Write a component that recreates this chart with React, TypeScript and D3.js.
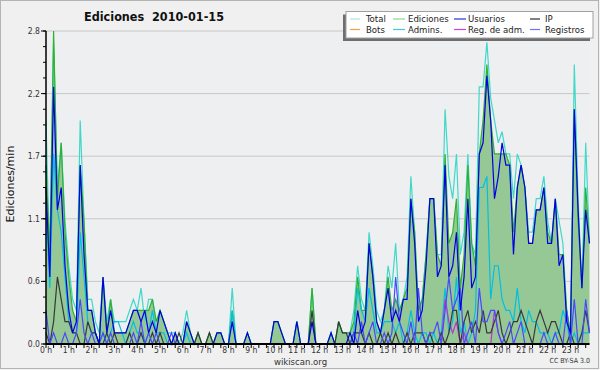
import * as d3 from "d3";

// edits per 10-minute slot, 0 h .. 23 h 50 (divided by 10 to get edits/min)
const total = [
  20, 7, 27, 14, 18, 11, 7, 4, 3, 20, 11, 4,
  4, 2, 1, 6, 2, 4, 2, 2, 2, 2, 3, 4,
  3, 5, 2, 4, 4, 2, 3, 2, 1, 1, 1, 0,
  1, 3, 1, 0, 1, 0, 0, 1, 0, 1, 1, 0,
  0, 5, 0, 0, 0, 1, 0, 0, 0, 0, 0, 0,
  2, 2, 1, 0, 0, 0, 2, 0, 0, 0, 5, 0,
  0, 0, 0, 1, 0, 2, 1, 1, 1, 3, 7, 4,
  3, 10, 7, 3, 2, 3, 7, 5, 9, 3, 4, 6,
  15, 10, 3, 4, 8, 13, 13, 8, 8, 21, 15, 13,
  17, 8, 10, 17, 9, 8, 23, 23, 27, 22, 20, 18,
  19, 17, 17, 13, 17, 16, 14, 10, 10, 13, 13, 15,
  11, 9, 13, 11, 9, 3, 1, 25, 13, 5, 18, 9,
];
const ediciones = [
  16, 8, 28, 13, 18, 10, 6, 3, 2, 16, 11, 3,
  3, 1, 0, 6, 1, 4, 1, 1, 1, 1, 2, 3,
  3, 3, 3, 3, 4, 2, 3, 2, 1, 0, 1, 0,
  0, 2, 1, 0, 1, 0, 0, 1, 0, 1, 1, 0,
  0, 3, 0, 0, 0, 1, 0, 0, 0, 0, 0, 0,
  2, 2, 1, 0, 0, 0, 2, 0, 0, 0, 5, 0,
  0, 0, 0, 1, 0, 2, 1, 1, 1, 2, 6, 3,
  3, 9, 6, 2, 1, 3, 6, 3, 4, 3, 4, 5,
  13, 10, 3, 4, 8, 13, 13, 8, 7, 17, 9, 10,
  13, 5, 8, 16, 9, 7, 17, 20, 25, 20, 17, 17,
  17, 17, 16, 10, 14, 16, 14, 9, 9, 12, 12, 14,
  10, 9, 13, 8, 8, 3, 1, 21, 11, 5, 14, 9,
];
const usuarios = [
  14, 6, 23, 12, 14, 7, 3, 1, 2, 16, 8, 3,
  3, 1, 0, 6, 1, 3, 1, 1, 1, 1, 2, 3,
  3, 2, 3, 1, 2, 1, 3, 2, 1, 0, 1, 0,
  0, 2, 1, 0, 0, 0, 0, 0, 0, 1, 1, 0,
  0, 2, 0, 0, 0, 1, 0, 0, 0, 0, 0, 0,
  2, 2, 1, 0, 0, 0, 2, 0, 0, 0, 2, 0,
  0, 0, 0, 1, 0, 0, 0, 0, 1, 0, 3, 1,
  2, 9, 6, 2, 1, 3, 5, 2, 3, 2, 4, 4,
  13, 9, 2, 3, 7, 13, 13, 6, 7, 16, 6, 7,
  10, 3, 6, 13, 5, 6, 17, 18, 24, 20, 13, 15,
  18, 16, 16, 8, 14, 16, 14, 9, 9, 12, 12, 14,
  9, 9, 13, 7, 8, 2, 1, 21, 12, 5, 12, 9,
];
const ip = [
  1, 0, 2, 6, 4, 2, 2, 1, 1, 0, 0, 2,
  1, 1, 0, 0, 1, 0, 1, 0, 0, 0, 1, 0,
  0, 1, 0, 0, 1, 0, 1, 0, 0, 0, 0, 1,
  0, 0, 0, 0, 1, 0, 0, 1, 0, 0, 0, 0,
  0, 0, 0, 0, 0, 0, 0, 0, 0, 0, 0, 0,
  0, 0, 0, 0, 0, 0, 0, 0, 0, 0, 3, 0,
  0, 0, 0, 0, 0, 2, 1, 1, 0, 1, 1, 1,
  0, 1, 0, 0, 1, 0, 1, 0, 1, 0, 0, 1,
  0, 1, 1, 1, 0, 1, 0, 0, 1, 0, 1, 3,
  3, 0, 2, 3, 1, 2, 1, 3, 1, 1, 2, 3,
  1, 0, 1, 2, 2, 3, 2, 1, 0, 2, 3, 2,
  1, 2, 2, 1, 0, 0, 1, 0, 0, 1, 3, 1,
];
const admins = [
  13, 5, 17, 12, 10, 6, 2, 1, 1, 10, 6, 2,
  1, 1, 0, 1, 0, 1, 2, 2, 1, 0, 1, 2,
  1, 1, 0, 1, 3, 1, 1, 1, 0, 0, 0, 0,
  0, 1, 0, 0, 0, 0, 0, 0, 0, 0, 0, 0,
  0, 3, 0, 0, 0, 0, 0, 0, 0, 0, 0, 0,
  0, 0, 0, 0, 0, 0, 0, 0, 0, 0, 0, 0,
  0, 0, 0, 0, 0, 0, 0, 0, 0, 1, 5, 3,
  2, 5, 3, 1, 1, 2, 2, 2, 1, 2, 0, 1,
  3, 1, 0, 1, 1, 0, 1, 0, 1, 5, 1, 2,
  6, 1, 2, 0, 1, 3, 14, 14, 15, 4, 7, 7,
  4, 3, 3, 2, 5, 2, 1, 3, 2, 2, 1, 1,
  1, 0, 1, 1, 3, 2, 0, 1, 0, 1, 1, 1,
];
const regAdm = [
  0, 0, 0, 0, 0, 0, 0, 0, 0, 0, 0, 0,
  0, 0, 0, 0, 0, 0, 0, 0, 0, 0, 0, 0,
  0, 0, 0, 0, 0, 0, 0, 0, 0, 0, 0, 0,
  0, 0, 0, 0, 0, 0, 0, 0, 0, 0, 0, 0,
  0, 0, 0, 0, 0, 0, 0, 0, 0, 0, 0, 0,
  0, 0, 0, 0, 0, 0, 0, 0, 0, 0, 0, 0,
  0, 0, 0, 0, 0, 0, 0, 0, 0, 0, 0, 0,
  0, 0, 0, 0, 0, 0, 0, 0, 0, 0, 0, 0,
  0, 0, 0, 0, 0, 0, 0, 0, 0, 4, 2, 1,
  2, 0, 1, 0, 0, 0, 0, 0, 0, 0, 3, 1,
  0, 0, 0, 0, 0, 0, 0, 0, 0, 0, 0, 0,
  0, 0, 0, 0, 0, 0, 0, 0, 0, 0, 0, 0,
];
const registros = [
  3, 0, 1, 0, 0, 1, 0, 0, 1, 4, 1, 0,
  1, 0, 0, 1, 0, 1, 0, 0, 0, 0, 0, 1,
  0, 2, 0, 1, 0, 1, 0, 0, 0, 1, 0, 0,
  0, 0, 0, 0, 0, 0, 0, 0, 0, 0, 0, 0,
  0, 0, 0, 0, 0, 0, 0, 0, 0, 0, 0, 0,
  0, 0, 0, 0, 0, 0, 0, 0, 0, 0, 0, 0,
  0, 0, 0, 0, 0, 0, 0, 0, 0, 1, 0, 2,
  0, 1, 2, 0, 0, 1, 0, 1, 6, 2, 1, 0,
  2, 0, 5, 1, 0, 1, 1, 2, 0, 3, 6, 3,
  4, 5, 0, 1, 2, 0, 5, 2, 2, 3, 3, 1,
  0, 1, 2, 0, 1, 2, 0, 0, 0, 0, 0, 1,
  0, 0, 1, 0, 0, 3, 0, 4, 0, 0, 4, 1,
];

const hourLabels = d3.range(24).map((h) => `${h} h`);
const yTicks = [0, 0.56, 1.12, 1.68, 2.24, 2.8];

const legend = [
  { name: "Total", color: "#a8e8e0" },
  { name: "Ediciones", color: "#90d890" },
  { name: "Usuarios", color: "#3030e0" },
  { name: "IP", color: "#303030" },
  { name: "Bots", color: "#f0a040" },
  { name: "Admins.", color: "#40c8e0" },
  { name: "Reg. de adm.", color: "#d040e0" },
  { name: "Registros", color: "#7070ff" },
];

const W = 600;
const H = 370;
const m = { left: 46, right: 10.5, top: 31, bottom: 26 };

export default function App() {
  const x = d3.scaleLinear().domain([0, 143]).range([m.left, W - m.right]);
  const y = d3.scaleLinear().domain([0, 2.8]).range([H - m.bottom, m.top]);

  const line = (arr: number[]) =>
    d3.line<number>().x((_, i) => x(i)).y((d) => y(d / 10))(arr) || "";
  const area = d3
    .area<number>()
    .x((_, i) => x(i))
    .y0(y(0))
    .y1((d) => y(d / 10))(ediciones) || "";

  const font = "DejaVu Sans, sans-serif";
  const cond = "DejaVu Sans Condensed, DejaVu Sans, sans-serif";
  const minorY = d3.range(0, 2.81, 0.14);
  const minorX = d3.range(0, 144, 2);

  const series = [
    { d: total, color: "#40d8c8" },
    { d: ediciones, color: "#30b030" },
    { d: admins, color: "#00c0e0" },
    { d: regAdm, color: "#c030d0" },
    { d: ip, color: "#383838" },
    { d: registros, color: "#4848ff" },
    { d: usuarios, color: "#0000e0" },
  ];

  const lx = [350, 393, 454, 530];
  const lw = [10, 12, 12, 10];
  const tx = [366, 408, 468, 545];

  return (
    <svg
      width={W}
      height={H}
      style={{ position: "absolute", left: 0, top: 0, background: "#f0f0f0" }}
    >
      <rect x={0.5} y={0.5} width={W - 2} height={H - 2} fill="#f0f0f0" stroke="#b4b4b4" />
      <rect
        x={m.left}
        y={m.top}
        width={W - m.right - m.left}
        height={H - m.bottom - m.top}
        fill="#eeeff1"
      />
      {yTicks.slice(1).map((t) => (
        <line key={t} x1={m.left} x2={W - m.right} y1={y(t)} y2={y(t)} stroke="#c8c8c8" />
      ))}
      <path d={area} fill="#96c896" />
      {series.map((s, i) => (
        <path key={i} d={line(s.d)} fill="none" stroke={s.color} strokeWidth={1.2} />
      ))}

      {/* axes */}
      <line x1={m.left} x2={m.left} y1={m.top} y2={H - m.bottom} stroke="#000" strokeWidth={1.5} />
      <line x1={m.left} x2={W - m.right} y1={H - m.bottom} y2={H - m.bottom} stroke="#000" strokeWidth={2} />
      {minorY.map((t) => (
        <line key={t} x1={m.left - 3} x2={m.left} y1={y(t)} y2={y(t)} stroke="#000" />
      ))}
      {yTicks.map((t) => (
        <g key={t}>
          <line x1={m.left - 5} x2={m.left} y1={y(t)} y2={y(t)} stroke="#000" />
          <text x={m.left - 6} y={y(t) + 3} textAnchor="end" fontFamily={cond} fontSize={8.5} fill="#333">
            {d3.format(".1f")(t)}
          </text>
        </g>
      ))}
      {minorX.map((t) => (
        <line key={t} x1={x(t)} x2={x(t)} y1={H - m.bottom} y2={H - m.bottom + 4} stroke="#000" />
      ))}
      {hourLabels.map((l, h) => (
        <text key={l} x={x(h * 6)} y={353} textAnchor="middle" fontFamily={cond} fontSize={8.5} fill="#333">
          {l}
        </text>
      ))}

      <text x={10} y={184} transform="rotate(-90 10 184)" dy={4} textAnchor="middle" fontFamily={font} fontSize={11} fill="#111">
        Ediciones/min
      </text>
      <text x={154} y={21} textAnchor="middle" fontFamily={cond} fontWeight="bold" fontSize={12.5} fill="#111" style={{ whiteSpace: "pre" }}>
        {"Ediciones  2010-01-15"}
      </text>
      <text x={300.5} y={365} textAnchor="middle" fontFamily={cond} fontSize={9.5} fill="#333">
        wikiscan.org
      </text>
      <text x={590} y={363} textAnchor="end" fontFamily={cond} fontSize={7} fill="#333">
        CC BY-SA 3.0
      </text>

      {/* legend */}
      <rect x={343} y={14.5} width={247} height={26.5} fill="#6e6e6e" />
      <rect x={346} y={11.5} width={247} height={26.5} fill="#fff" stroke="#a0a0a0" />
      {legend.map((l, i) => {
        const c = i % 4;
        const r = Math.floor(i / 4);
        const cy = 19 + r * 10.5;
        return (
          <g key={l.name}>
            <line x1={lx[c]} x2={lx[c] + lw[c]} y1={cy} y2={cy} stroke={l.color} strokeWidth={1.2} />
            <text x={tx[c]} y={cy + 3.3} fontFamily={cond} fontSize={9.5} fill="#222">
              {l.name}
            </text>
          </g>
        );
      })}
    </svg>
  );
}
